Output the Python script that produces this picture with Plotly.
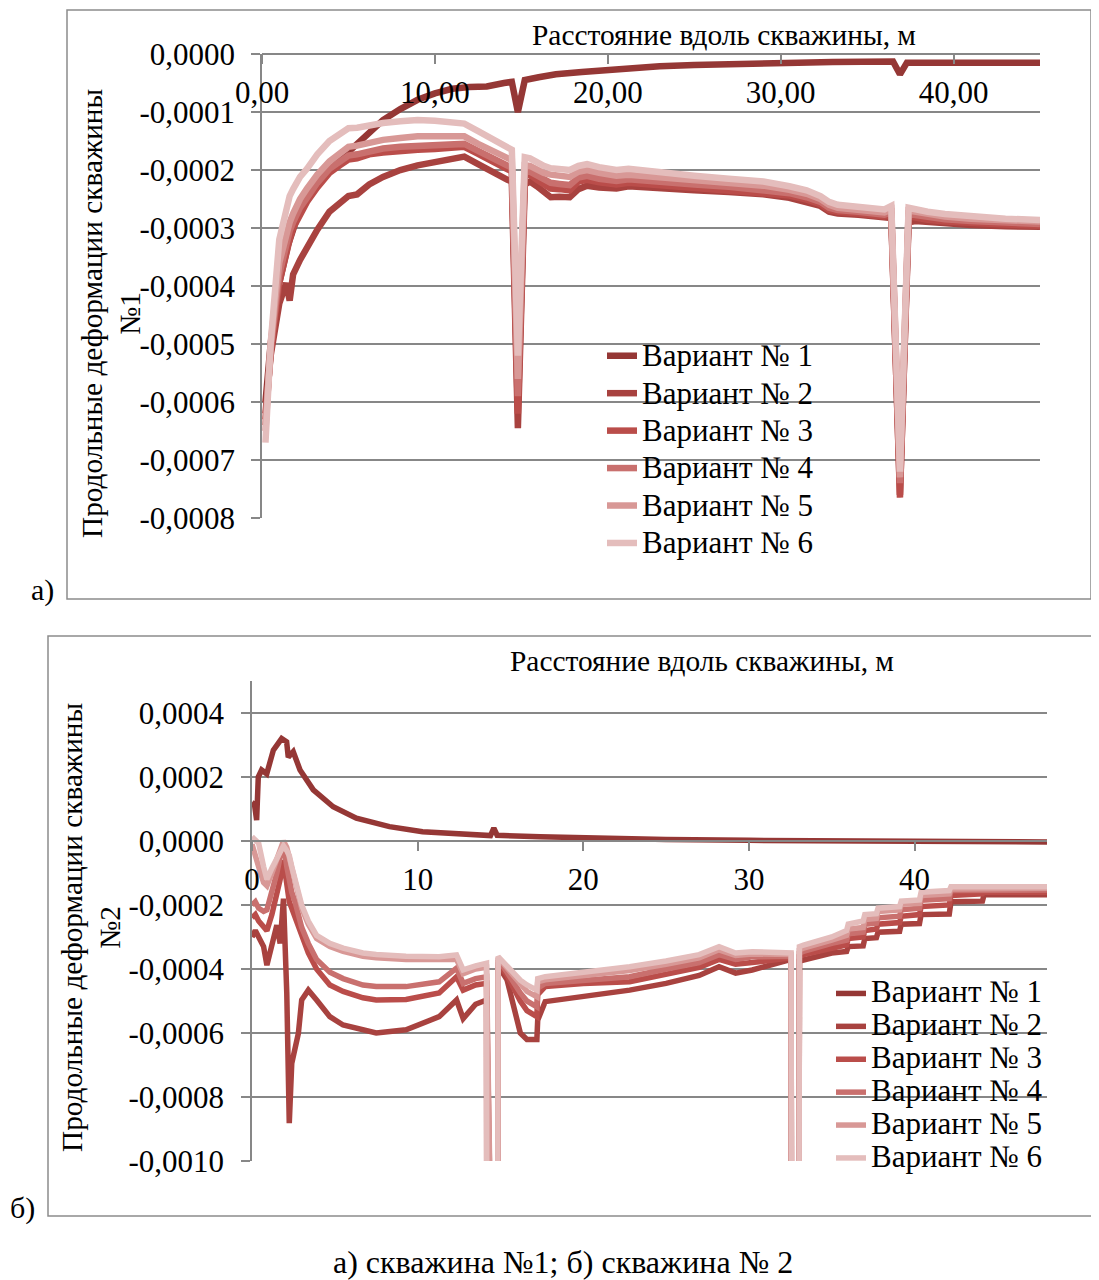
import plotly.graph_objects as go

# page body has an 8px margin: the figure is sized to fit the 1099x1280 window
OFF = 8
W, H = 1099 - OFF, 1280 - OFF
SCALE = 1e-4  # all series values below are given in units of 1e-4
FONT = "Liberation Serif, Times New Roman, serif"
GRID = "#878787"

series_names = ["Вариант № 1", "Вариант № 2", "Вариант № 3",
                "Вариант № 4", "Вариант № 5", "Вариант № 6"]
colors = ["#953735", "#A8423F", "#BA4D4A", "#C9706E", "#D89896", "#E4BDBC"]

# ---------------- chart a) : well No.1 ----------------
top_x_v1 = [0.2, 0.5, 1.0, 1.5, 2.0, 2.6, 3.2, 4.1, 5.1, 6.0, 7.0, 8.0, 9.0, 10.0, 11.0,
            12.0, 13.0, 14.0, 14.45, 14.8, 15.2, 16.0, 17.0, 18.5, 21.0, 23.0, 25.0, 27.0,
            29.0, 31.0, 33.0, 35.0, 36.5, 36.9, 37.3, 38.0, 40.0, 42.0, 45.0]
top_v1 = [-6.0, -5.0, -3.95, -3.3, -2.85, -2.52, -2.25, -1.95, -1.66, -1.4, -1.14, -0.95,
          -0.79, -0.68, -0.6, -0.57, -0.56, -0.5, -0.48, -1.0, -0.45, -0.4, -0.35, -0.31,
          -0.25, -0.21, -0.19, -0.17, -0.16, -0.15, -0.14, -0.135, -0.13, -0.35, -0.15,
          -0.15, -0.15, -0.15, -0.15]

top_x = [0.2, 0.5, 1.0, 1.4, 1.6, 1.8, 2.2, 2.6, 3.2, 3.9, 4.5, 5.0, 5.5, 6.2, 7.0, 8.0,
         9.0, 10.0, 11.0, 11.7, 12.5, 13.2, 13.8, 14.2, 14.45, 14.8, 15.2, 15.5, 15.9, 16.3,
         16.7, 17.2, 17.8, 18.3, 18.8, 19.5, 20.5, 21.2, 23.0, 25.0, 27.0, 29.0, 30.5, 31.5,
         32.3, 32.8, 33.3, 34.5, 35.5, 36.0, 36.4, 36.9, 37.4, 37.8, 38.5, 39.5, 41.0, 43.0,
         45.0]
top_v2 = [-6.2, -5.2, -4.3, -3.95, -4.25, -3.8, -3.55, -3.33, -3.03, -2.72,
          -2.58, -2.45, -2.42, -2.25, -2.12, -2.0, -1.92, -1.87, -1.83, -1.77,
          -1.9, -2.02, -2.1, -2.17, -2.2, -6.45, -2.25, -2.2, -2.28, -2.38,
          -2.47, -2.46, -2.47, -2.33, -2.27, -2.3, -2.32, -2.28, -2.32, -2.35,
          -2.38, -2.42, -2.48, -2.55, -2.62, -2.72, -2.75, -2.77, -2.8, -2.84,
          -2.83, -7.6, -2.9, -2.88, -2.9, -2.93, -2.95, -2.97, -2.98]
top_v3 = [-6.3, -5.15, -3.95, -3.4, -3.2, -3.0, -2.75, -2.55, -2.3, -2.05,
          -1.92, -1.82, -1.8, -1.73, -1.7, -1.67, -1.65, -1.64, -1.62, -1.6,
          -1.72, -1.84, -1.92, -1.99, -2.02, -6.2, -2.1, -2.08, -2.17, -2.25,
          -2.32, -2.33, -2.35, -2.2, -2.17, -2.21, -2.25, -2.22, -2.26, -2.3,
          -2.34, -2.38, -2.44, -2.51, -2.59, -2.69, -2.72, -2.75, -2.78, -2.8,
          -2.78, -7.65, -2.8, -2.83, -2.86, -2.89, -2.92, -2.94, -2.96]
top_v4 = [-6.4, -5.1, -3.8, -3.25, -3.05, -2.9, -2.65, -2.48, -2.22, -1.98,
          -1.85, -1.75, -1.73, -1.67, -1.63, -1.6, -1.58, -1.57, -1.56, -1.55,
          -1.67, -1.78, -1.86, -1.93, -1.96, -5.9, -2.02, -2.03, -2.1, -2.17,
          -2.22, -2.24, -2.26, -2.13, -2.1, -2.15, -2.19, -2.16, -2.21, -2.25,
          -2.29, -2.34, -2.4, -2.47, -2.55, -2.65, -2.69, -2.72, -2.75, -2.77,
          -2.73, -7.4, -2.76, -2.78, -2.82, -2.85, -2.88, -2.91, -2.93]
top_v5 = [-6.5, -5.0, -3.6, -3.1, -2.9, -2.75, -2.5, -2.32, -2.08, -1.85,
          -1.7, -1.6, -1.58, -1.52, -1.48, -1.45, -1.42, -1.42, -1.41, -1.42,
          -1.55, -1.65, -1.73, -1.8, -1.83, -5.6, -1.92, -1.93, -2.0, -2.05,
          -2.08, -2.1, -2.12, -2.03, -2.0, -2.05, -2.1, -2.08, -2.13, -2.17,
          -2.22, -2.27, -2.34, -2.41, -2.5, -2.6, -2.65, -2.68, -2.71, -2.73,
          -2.68, -7.3, -2.7, -2.72, -2.76, -2.8, -2.84, -2.87, -2.89]
top_v6 = [-6.7, -5.0, -3.2, -2.65, -2.45, -2.33, -2.12, -1.98, -1.73, -1.5,
          -1.37, -1.28, -1.27, -1.22, -1.19, -1.16, -1.14, -1.15, -1.17, -1.2,
          -1.33, -1.45, -1.55, -1.62, -1.65, -5.2, -1.78, -1.8, -1.87, -1.93,
          -1.97, -1.98, -2.0, -1.93, -1.9, -1.95, -2.0, -1.98, -2.05, -2.1,
          -2.15, -2.2, -2.28, -2.35, -2.45, -2.55, -2.6, -2.63, -2.66, -2.68,
          -2.62, -7.2, -2.65, -2.68, -2.72, -2.76, -2.8, -2.84, -2.86]

# ---------------- chart б) : well No.2 ----------------
bot_x_v1 = [0.0, 0.15, 0.28, 0.38, 0.58, 0.89, 1.29, 1.79, 2.09, 2.19, 2.49, 2.9, 3.7, 4.9,
            6.3, 8.3, 10.3, 13.3, 14.4, 14.6, 14.8, 17.4, 20.0, 25.0, 30.0, 36.0, 42.0, 48.0]
bot_v1 = [1.2, 1.15, 0.65, 2.0, 2.22, 2.1, 2.84, 3.2, 3.1, 2.62, 2.79, 2.22, 1.6, 1.07,
          0.71, 0.45, 0.29, 0.19, 0.17, 0.4, 0.18, 0.13, 0.09, 0.05, 0.02, 0.0, -0.02, -0.03]

bot_x = [0.0, 0.2, 0.4, 0.7, 0.9, 1.2, 1.5, 1.7, 1.9, 2.1, 2.25, 2.4, 2.6, 2.8, 3.0, 3.4,
         3.9, 4.7, 5.5, 6.7, 7.5, 9.3, 11.3, 12.35, 12.75, 13.5, 14.16, 14.2, 14.8, 14.86,
         15.4, 16.2, 16.6, 17.2, 17.25, 17.7, 20.0, 22.8, 25.0, 27.0, 28.2, 29.2, 30.2, 32.3,
         32.55, 32.6, 33.0, 33.05, 33.3, 35.0, 35.9, 36.0, 36.9, 37.0, 37.7, 37.8, 39.1,
         39.2, 40.3, 40.4, 42.1, 42.2, 44.1, 44.2, 48.0]
bot_v2 = [-3.0, -2.8, -3.0, -3.3, -3.88, -3.3, -2.63, -3.2, -1.8, -4.76,
          -8.82, -6.95, -6.43, -6.01, -4.97, -4.66, -4.97, -5.49, -5.75, -5.9,
          -6.0, -5.9, -5.49, -4.97, -5.55, -5.1, -4.97, -25.0, -25.0, -3.9,
          -4.34, -6.0, -6.2, -6.2, -5.6, -5.02, -4.85, -4.66, -4.45, -4.2,
          -3.93, -4.13, -4.03, -3.72, -3.7, -25.0, -25.0, -3.75, -3.72, -3.5,
          -3.45, -3.3, -3.28, -3.05, -3.02, -2.85, -2.82, -2.6, -2.58, -2.3,
          -2.28, -1.9, -1.88, -1.68, -1.68]
bot_v3 = [-2.4, -2.3, -2.5, -2.7, -2.8, -2.3, -1.7, -1.2, -0.6, -1.5,
          -1.9, -2.1, -2.4, -2.7, -3.0, -3.5, -4.0, -4.5, -4.7, -4.9,
          -4.97, -4.95, -4.75, -4.24, -4.66, -4.5, -4.45, -25.0, -25.0, -3.8,
          -4.2, -5.0, -5.3, -5.49, -4.8, -4.55, -4.45, -4.4, -4.15, -3.95,
          -3.7, -3.85, -3.8, -3.65, -3.65, -25.0, -25.0, -3.6, -3.55, -3.35,
          -3.25, -3.05, -3.0, -2.8, -2.75, -2.6, -2.55, -2.35, -2.3, -2.05,
          -2.0, -1.7, -1.65, -1.6, -1.6]
bot_v4 = [-2.0, -1.9, -2.1, -2.2, -2.15, -1.6, -1.0, -0.5, -0.05, -0.8,
          -1.3, -1.6, -1.9, -2.3, -2.7, -3.2, -3.7, -4.1, -4.3, -4.5,
          -4.55, -4.55, -4.4, -3.97, -4.45, -4.3, -4.24, -25.0, -25.0, -3.72,
          -4.1, -4.75, -5.0, -5.18, -4.6, -4.45, -4.35, -4.24, -4.0, -3.8,
          -3.55, -3.7, -3.62, -3.58, -3.6, -25.0, -25.0, -3.5, -3.45, -3.2,
          -3.1, -2.9, -2.85, -2.6, -2.57, -2.4, -2.35, -2.15, -2.1, -1.85,
          -1.8, -1.55, -1.53, -1.53, -1.53]
bot_v5 = [-0.1, -0.5, -0.8, -1.3, -1.4, -1.0, -0.6, -0.3, 0.0, -0.2,
          -0.5, -0.9, -1.3, -1.7, -2.1, -2.6, -3.05, -3.3, -3.45, -3.6,
          -3.65, -3.7, -3.72, -3.7, -4.15, -4.0, -3.95, -25.0, -25.0, -3.65,
          -3.98, -4.5, -4.7, -4.87, -4.4, -4.34, -4.2, -4.05, -3.85, -3.65,
          -3.4, -3.58, -3.53, -3.52, -3.55, -25.0, -25.0, -3.4, -3.35, -3.1,
          -2.95, -2.75, -2.7, -2.45, -2.42, -2.2, -2.15, -1.98, -1.95, -1.7,
          -1.65, -1.5, -1.48, -1.48, -1.48]
bot_v6 = [0.13, 0.05, -0.07, -0.8, -1.2, -0.85, -0.55, -0.35, -0.15, -0.3,
          -0.45, -0.8, -1.2, -1.6, -2.0, -2.5, -2.95, -3.2, -3.35, -3.5,
          -3.55, -3.6, -3.62, -3.56, -4.03, -3.9, -3.82, -25.0, -25.0, -3.61,
          -3.9, -4.35, -4.5, -4.66, -4.3, -4.24, -4.1, -3.93, -3.75, -3.55,
          -3.3, -3.5, -3.46, -3.46, -3.5, -25.0, -25.0, -3.3, -3.25, -3.0,
          -2.8, -2.6, -2.5, -2.3, -2.27, -2.1, -2.05, -1.88, -1.84, -1.6,
          -1.55, -1.43, -1.43, -1.43, -1.43]

# ---------------- ticks ----------------
top_xtick_vals = [0, 10, 20, 30, 40]
top_xtick_text = ["0,00", "10,00", "20,00", "30,00", "40,00"]
top_ytick_vals = [0.0, -0.0001, -0.0002, -0.0003, -0.0004, -0.0005, -0.0006, -0.0007, -0.0008]
top_ytick_text = ["0,0000", "-0,0001", "-0,0002", "-0,0003", "-0,0004",
                  "-0,0005", "-0,0006", "-0,0007", "-0,0008"]
bot_xtick_vals = [0, 10, 20, 30, 40]
bot_xtick_text = ["0", "10", "20", "30", "40"]
bot_ytick_vals = [-0.0010, -0.0008, -0.0006, -0.0004, -0.0002, 0.0, 0.0002, 0.0004]
bot_ytick_text = ["-0,0010", "-0,0008", "-0,0006", "-0,0004", "-0,0002",
                  "0,0000", "0,0002", "0,0004"]

x_title = "Расстояние вдоль скважины, м"
y_title_top = "Продольные деформации скважины<br>№1"
y_title_bot = "Продольные деформации скважины<br>№2"
caption = "а) скважина №1; б) скважина № 2"


def fx(px):
    # window pixel -> paper fraction
    return (px - OFF) / W


def fy(py):
    return 1 - (py - OFF) / H


fig = go.Figure()

top_sets = [(top_x_v1, top_v1), (top_x, top_v2), (top_x, top_v3),
            (top_x, top_v4), (top_x, top_v5), (top_x, top_v6)]
bot_sets = [(bot_x_v1, bot_v1), (bot_x, bot_v2), (bot_x, bot_v3),
            (bot_x, bot_v4), (bot_x, bot_v5), (bot_x, bot_v6)]


def lg_name(n):
    return '<span style="font-size:31px">' + n + '</span>'


for i, (xs, ys) in enumerate(top_sets):
    fig.add_trace(go.Scatter(
        x=xs, y=[v * SCALE for v in ys], mode="lines",
        name=lg_name(series_names[i]),
        line=dict(color=colors[i], width=6.5),
        xaxis="x", yaxis="y", legend="legend"))

for i, (xs, ys) in enumerate(bot_sets):
    fig.add_trace(go.Scatter(
        x=xs, y=[v * SCALE for v in ys], mode="lines",
        name=lg_name(series_names[i]),
        line=dict(color=colors[i], width=5.5),
        xaxis="x2", yaxis="y2", legend="legend2"))

# plot areas in window pixels
T_L, T_R, T_T, T_B = 262, 1040, 54, 518
B_L, B_R, B_T, B_B = 252, 1047, 681, 1161
b_y0, b_y1 = fy(B_B), fy(B_T)
b_zero = b_y0 + (0 - (-0.0010)) / (0.0005 - (-0.0010)) * (b_y1 - b_y0)

axis_common = dict(showline=True, linecolor=GRID, linewidth=1.5, automargin=False,
                   ticks="outside", tickcolor=GRID, tickwidth=1.5, ticklen=9,
                   zeroline=False, tickfont=dict(family=FONT, size=31, color="black"),
                   fixedrange=True)

fig.update_layout(
    width=W, height=H, autosize=False,
    margin=dict(l=0, r=0, t=0, b=0, pad=0, autoexpand=False),
    paper_bgcolor="white", plot_bgcolor="rgba(0,0,0,0)",
    font=dict(family=FONT, color="black"),
    xaxis=dict(domain=[fx(T_L), fx(T_R)], range=[0, 45], anchor="free",
               position=fy(T_T), side="bottom", showgrid=False,
               tickvals=top_xtick_vals, ticktext=top_xtick_text,
               ticklabelstandoff=2, **axis_common),
    yaxis=dict(domain=[fy(T_B), fy(T_T)], range=[-0.0008, 0], anchor="x",
               showgrid=True, gridcolor=GRID, gridwidth=1.5,
               tickvals=top_ytick_vals, ticktext=top_ytick_text,
               ticklabelstandoff=10, **axis_common),
    xaxis2=dict(domain=[fx(B_L), fx(B_R)], range=[0, 48], anchor="free",
                position=b_zero, side="bottom", showgrid=False,
                tickvals=bot_xtick_vals, ticktext=bot_xtick_text,
                ticklabelstandoff=2, **axis_common),
    yaxis2=dict(domain=[b_y0, b_y1], range=[-0.0010, 0.0005], anchor="x2",
                showgrid=True, gridcolor=GRID, gridwidth=1.5,
                tickvals=bot_ytick_vals, ticktext=bot_ytick_text,
                ticklabelstandoff=11, **axis_common),
    legend=dict(x=fx(602), y=fy(332), xanchor="left", yanchor="top",
                bgcolor="rgba(0,0,0,0)", borderwidth=0, tracegroupgap=0,
                font=dict(family=FONT, size=26.5, color="black")),
    legend2=dict(x=fx(831), y=fy(972), xanchor="left", yanchor="top",
                 bgcolor="rgba(0,0,0,0)", borderwidth=0, tracegroupgap=0,
                 font=dict(family=FONT, size=23, color="black")),
    showlegend=True,
)

# chart frames
fig.add_shape(type="rect", xref="paper", yref="paper",
              x0=fx(67), x1=fx(1091), y0=fy(599), y1=fy(10),
              line=dict(color="#8c8c8c", width=1.5), layer="below")
fig.add_shape(type="rect", xref="paper", yref="paper",
              x0=fx(48), x1=fx(1098), y0=fy(1216), y1=fy(636),
              line=dict(color="#8c8c8c", width=1.5), layer="below")

ann_font = dict(family=FONT, color="black")
anns = [
    dict(text=x_title, x=fx(724), y=fy(35), size=29.4, angle=0),
    dict(text=x_title, x=fx(702), y=fy(661), size=29.4, angle=0),
    dict(text=y_title_top, x=fx(111), y=fy(314), size=29.3, angle=-90),
    dict(text=y_title_bot, x=fx(91), y=fy(928), size=29.3, angle=-90),
    dict(text="а)", x=fx(42), y=fy(590), size=30, angle=0),
    dict(text="б)", x=fx(22), y=fy(1208), size=30, angle=0),
    dict(text=caption, x=fx(563), y=fy(1262), size=32, angle=0),
]
for a in anns:
    fig.add_annotation(text=a["text"], x=a["x"], y=a["y"], xref="paper", yref="paper",
                       xanchor="center", yanchor="middle", showarrow=False,
                       textangle=a["angle"], font=dict(size=a["size"], **ann_font))

fig.write_html("out.html")
